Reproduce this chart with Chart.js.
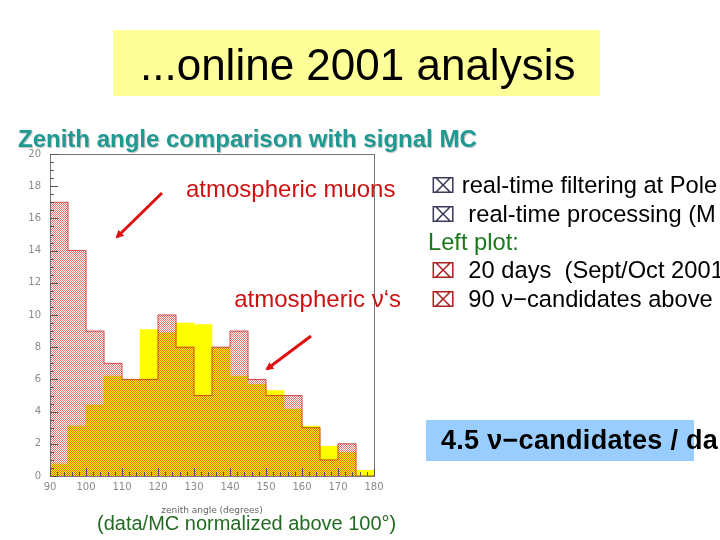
<!DOCTYPE html>
<html><head><meta charset="utf-8">
<script src="https://cdn.jsdelivr.net/npm/chart.js@4.4.1/dist/chart.umd.min.js"></script>
<style>
html,body{margin:0;padding:0;background:#fff;}
#wrap{position:relative;width:720px;height:540px;overflow:hidden;font-family:"Liberation Sans",Arial,sans-serif;}
#c{position:absolute;left:0;top:0;}
.t{position:absolute;white-space:pre;line-height:1;}
.r{font-size:23.7px;color:#000;}
.sym{font-family:"DejaVu Sans",sans-serif;font-size:21px;}
</style></head><body>
<div id="wrap">
  <div style="position:absolute;left:113px;top:30px;width:487px;height:66px;background:#ffff99"></div>
  <div style="position:absolute;left:426px;top:420px;width:268px;height:41px;background:#99ccff"></div>
  <canvas id="c" width="720" height="540"></canvas>
  <svg width="720" height="540" style="position:absolute;left:0;top:0">
    <defs><marker id="ah" markerWidth="8" markerHeight="8" refX="6" refY="4" orient="auto" markerUnits="userSpaceOnUse"><path d="M0,0 L8,4 L0,8 z" fill="#dd1111"/></marker></defs>
    <line x1="162" y1="193" x2="117" y2="237" stroke="#dd1111" stroke-width="3" marker-end="url(#ah)"/>
    <line x1="311" y1="336" x2="267" y2="369" stroke="#dd1111" stroke-width="3" marker-end="url(#ah)"/>
  </svg>
  <div class="t" style="left:140px;top:43px;font-size:44px;color:#000">...online 2001 analysis</div>
  <div class="t" style="left:18px;top:127px;font-size:24px;font-weight:bold;color:#1f9a92;text-shadow:1px 1px 1px rgba(0,0,0,0.25)">Zenith angle comparison with signal MC</div>
  <div class="t" style="left:186px;top:177px;font-size:24px;color:#cc1111">atmospheric muons</div>
  <div class="t" style="right:319px;top:287px;font-size:24px;color:#cc1111">atmospheric ν‘s</div>
  <div class="t r" style="left:431px;top:174px"><span class="sym" style="color:#3a3a5a">⌧</span> real-time filtering at Pole</div>
  <div class="t r" style="left:431px;top:203px"><span class="sym" style="color:#3a3a5a">⌧</span>  real-time processing (M</div>
  <div class="t" style="left:428px;top:231px;font-size:23.7px;color:#1a7a1a">Left plot:</div>
  <div class="t r" style="left:431px;top:259px"><span class="sym" style="color:#aa2222">⌧</span>  20 days  (Sept/Oct 2001</div>
  <div class="t r" style="left:431px;top:288px"><span class="sym" style="color:#aa2222">⌧</span>  90 ν−candidates above</div>
  <div class="t" style="left:441px;top:427px;font-size:27px;font-weight:bold;letter-spacing:0.3px;color:#000">4.5 ν−candidates / da</div>
  <div class="t" style="left:97px;top:513px;font-size:20px;color:#236b23">(data/MC normalized above 100°)</div>
</div>
<script>
const binEdges = [90,95,100,105,110,115,120,125,130,135,140,145,150,155,160,165,170,175,180];
const dataCounts = [17,14,9,7,6,6,10,8,5,8,9,6,5,5,3,1,2,0];
const mcSignal = [0.75,3.1,4.4,6.2,6.0,9.1,8.9,9.5,9.4,7.95,6.2,5.7,5.3,4.15,3.1,1.85,1.45,0.35];
const xTicks = [90,100,110,120,130,140,150,160,170,180];
const yTicks = [0,2,4,6,8,10,12,14,16,18,20];

const centers = dataCounts.map((v,i)=> (binEdges[i]+binEdges[i+1])/2);
const dataPts = dataCounts.map((v,i)=>({x:centers[i], y:v}));
const mcPts = mcSignal.map((v,i)=>({x:centers[i], y:v}));
const outline = [{x:binEdges[0], y:0}].concat(dataCounts.map((v,i)=>({x:binEdges[i], y:v})), [{x:binEdges[binEdges.length-1], y:0}]);

// hatched pattern for data histogram
const pc = document.createElement('canvas'); pc.width = 2; pc.height = 2;
const px = pc.getContext('2d');
px.fillStyle = '#ffffff'; px.fillRect(0,0,2,2);
px.fillStyle = 'rgb(232,110,108)'; px.fillRect(0,0,1,1); px.fillRect(1,1,1,1);
const ctx0 = document.getElementById('c').getContext('2d');
const hatch = ctx0.createPattern(pc, 'repeat');

const blend = {
  id:'blend',
  beforeDatasetDraw(chart, args){
    if (chart.data.datasets[args.index].blendMultiply) chart.ctx.globalCompositeOperation = 'multiply';
  },
  afterDatasetDraw(chart){ chart.ctx.globalCompositeOperation = 'source-over'; }
};

const frameTicks = {
  id:'frameTicks',
  afterDraw(chart){
    const {ctx, chartArea:a, scales:{x,y}} = chart;
    ctx.save();
    ctx.strokeStyle = '#777'; ctx.lineWidth = 1;
    ctx.strokeRect(a.left+0.5, a.top+0.5, a.right-a.left, a.bottom-a.top);
    ctx.strokeStyle = '#555';
    ctx.beginPath();
    for (let v = y.min; v <= y.max+1e-9; v += 0.5) {
      const p = Math.round(y.getPixelForValue(v))+0.5;
      const L = (Math.abs(v/2 - Math.round(v/2)) < 1e-9) ? 8 : 4;
      ctx.moveTo(a.left, p); ctx.lineTo(a.left+L, p);
    }
    for (let v = x.min; v <= x.max+1e-9; v += 2) {
      const p = Math.round(x.getPixelForValue(v))+0.5;
      const L = (Math.abs(v/10 - Math.round(v/10)) < 1e-9) ? 8 : 4;
      ctx.moveTo(p, a.bottom); ctx.lineTo(p, a.bottom-L);
    }
    ctx.stroke();
    ctx.restore();
  }
};

new Chart(ctx0, {
  data: {
    datasets: [
      {type:'line', data: outline, stepped:'before', borderColor:'rgba(200,40,40,0.75)', borderWidth:1, pointRadius:0, fill:false, order:0},
      {type:'bar', data: mcPts, backgroundColor:'#ffff00', borderWidth:0, barPercentage:1, categoryPercentage:1, order:1, blendMultiply:true},
      {type:'bar', data: dataPts, backgroundColor: hatch, borderWidth:0, barPercentage:1, categoryPercentage:1, order:2}
    ]
  },
  options: {
    responsive:false, animation:false,
    layout:{padding:{left:0, top:154, right:346, bottom:24}},
    plugins:{legend:{display:false}, tooltip:{enabled:false}},
    scales:{
      x:{type:'linear', min:90, max:180, offset:false, stacked:true,
        grid:{display:false, offset:false, drawTicks:false},
        border:{display:true, color:'#777'},
        afterBuildTicks(s){ s.ticks = xTicks.map(v=>({value:v})); },
        afterFit(s){ s.height = 40; },
        ticks:{color:'#8a8a8a', font:{family:'DejaVu Sans', size:10}, padding:5, maxRotation:0, autoSkip:false},
        title:{display:true, text:'zenith angle (degrees)', color:'#666', font:{family:'DejaVu Sans', size:9}, padding:0}
      },
      y:{type:'linear', min:0, max:20, stacked:false,
        grid:{display:false, drawTicks:false},
        border:{display:true, color:'#777'},
        afterBuildTicks(s){ s.ticks = yTicks.map(v=>({value:v})); },
        afterFit(s){ s.width = 50; },
        ticks:{color:'#8a8a8a', font:{family:'DejaVu Sans', size:10}, padding:9}
      }
    }
  },
  plugins:[frameTicks, blend]
});
</script>
</body></html>
